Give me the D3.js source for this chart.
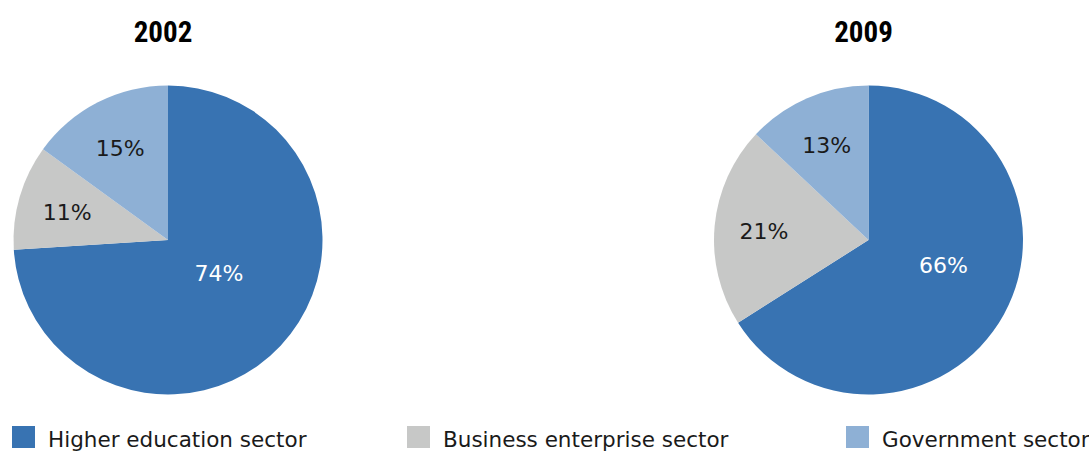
<!DOCTYPE html>
<html><head><meta charset="utf-8">
<script src="https://d3js.org/d3.v7.min.js"></script>
<style>body{margin:0;background:#fff;}</style>
</head><body>
<script>
const categories = ["Higher education sector", "Business enterprise sector", "Government sector"];
const years = ["2002", "2009"];
const values2002 = [74, 11, 15];
const values2009 = [66, 21, 13];
const colors = ["#3873B2", "#C7C8C7", "#8EB0D5"];
const labelColors = ["#ffffff", "#1a1a1a", "#1a1a1a"];

const W = 1089, H = 452;
const svg = d3.select("body").append("svg").attr("width", W).attr("height", H);

const pies = [
  {year: years[0], values: values2002, cx: 168, cy: 240},
  {year: years[1], values: values2009, cx: 868.5, cy: 240}
];
const R = 154.5;
const pie = d3.pie().sort(null).value(d => d.v);
const arc = d3.arc().innerRadius(0).outerRadius(R);

pies.forEach(p => {
  const g = svg.append("g").attr("transform", `translate(${p.cx},${p.cy})`);
  const data = pie(p.values.map((v, i) => ({v, i})));
  const total = d3.sum(p.values);
  g.selectAll("path").data(data).join("path")
    .attr("d", arc)
    .attr("fill", d => colors[d.data.i]);
  g.selectAll("text").data(data).join("text")
    .attr("transform", d => {
      const frac = d.data.v / total;
      const big = frac > 0.5;
      const mid = (d.startAngle + d.endAngle) / 2;
      const rr = big ? R * 1.5 * (1 - frac) : R * 0.68;
      const ang = big ? mid - 0.19 : mid;
      return `translate(${rr * Math.sin(ang)},${-rr * Math.cos(ang)})`;
    })
    .attr("text-anchor", "middle")
    .attr("dy", "0.42em")
    .attr("font-family", "DejaVu Sans, sans-serif")
    .attr("font-size", 22)
    .attr("fill", d => labelColors[d.data.i])
    .text(d => d.data.v + "%");
  svg.append("text")
    .attr("x", p.cx - 5).attr("y", 42)
    .attr("text-anchor", "middle")
    .attr("font-family", "Liberation Sans Narrow, Roboto Condensed, Arial Narrow, sans-serif")
    .attr("font-weight", "bold")
    .attr("font-size", 29)
    .attr("fill", "#000")
    .text(p.year);
});

const legendX = [12, 407, 846];
const lg = svg.append("g");
categories.forEach((c, i) => {
  lg.append("rect").attr("x", legendX[i]).attr("y", 426).attr("width", 23).attr("height", 22).attr("fill", colors[i]);
  lg.append("text").attr("x", legendX[i] + 36).attr("y", 447)
    .attr("font-family", "DejaVu Sans, sans-serif")
    .attr("font-size", 21.5)
    .attr("fill", "#1a1a1a")
    .text(c);
});
</script>
</body></html>
